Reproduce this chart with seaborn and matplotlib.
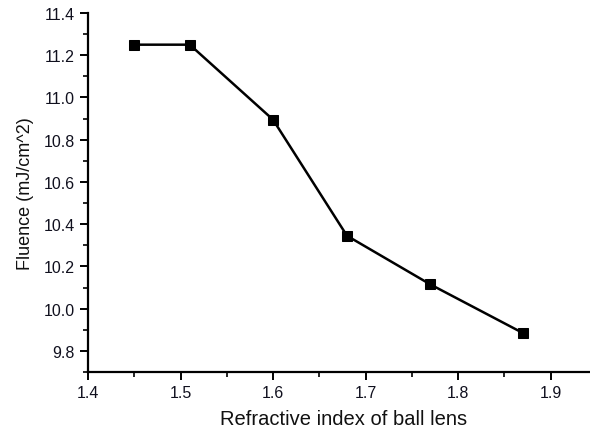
import matplotlib
matplotlib.use("Agg")
import matplotlib.pyplot as plt
import seaborn as sns
import pandas as pd
from matplotlib.ticker import MultipleLocator

refractive_index = [1.45, 1.51, 1.60, 1.68, 1.77, 1.87]
fluence = [11.25, 11.25, 10.895, 10.345, 10.115, 9.885]
x_ticks = [1.4, 1.5, 1.6, 1.7, 1.8, 1.9]
x_tick_labels = ["1.4", "1.5", "1.6", "1.7", "1.8", "1.9"]
y_ticks = [9.8, 10.0, 10.2, 10.4, 10.6, 10.8, 11.0, 11.2, 11.4]
y_tick_labels = ["9.8", "10.0", "10.2", "10.4", "10.6", "10.8", "11.0", "11.2", "11.4"]

df = pd.DataFrame({"n": refractive_index, "F": fluence})

sns.set_theme(style="ticks")
plt.rcParams["font.family"] = ["Liberation Sans", "DejaVu Sans"]

fig = plt.figure(figsize=(5.9, 4.31), dpi=100)
ax = fig.add_axes([88/590, 58/431, (590-88)/590, (373-14)/431])

sns.lineplot(data=df, x="n", y="F", ax=ax, color="black", linewidth=1.8,
             marker="s", markersize=7, markeredgecolor="black",
             markerfacecolor="black")

ax.set_xlim(1.4, 1.4 + (590-88)/925)
ax.set_ylim(9.7, 11.4)
ax.xaxis.set_minor_locator(MultipleLocator(0.05))
ax.yaxis.set_minor_locator(MultipleLocator(0.1))
ax.set_xticks(x_ticks)
ax.set_xticklabels(x_tick_labels)
ax.set_yticks(y_ticks)
ax.set_yticklabels(y_tick_labels)

for s in ["top", "right"]:
    ax.spines[s].set_visible(False)
for s in ["left", "bottom"]:
    ax.spines[s].set_linewidth(1.6)
    ax.spines[s].set_color("black")

ax.tick_params(axis="both", which="major", direction="out", length=6, width=1.4,
               labelsize=11.5, colors="black", labelcolor="#10101e", pad=3.5)
ax.tick_params(axis="both", which="minor", direction="out", length=3.5, width=1.2,
               colors="black")

ax.set_xlabel("Refractive index of ball lens", fontsize=14.5, color="#111111")
ax.set_ylabel("Fluence (mJ/cm^2)", fontsize=13, color="#111111")
ax.xaxis.set_label_coords(0.509, -0.102)
ax.yaxis.set_label_coords(-0.108, 0.5)

fig.savefig("out.png", dpi=100)
